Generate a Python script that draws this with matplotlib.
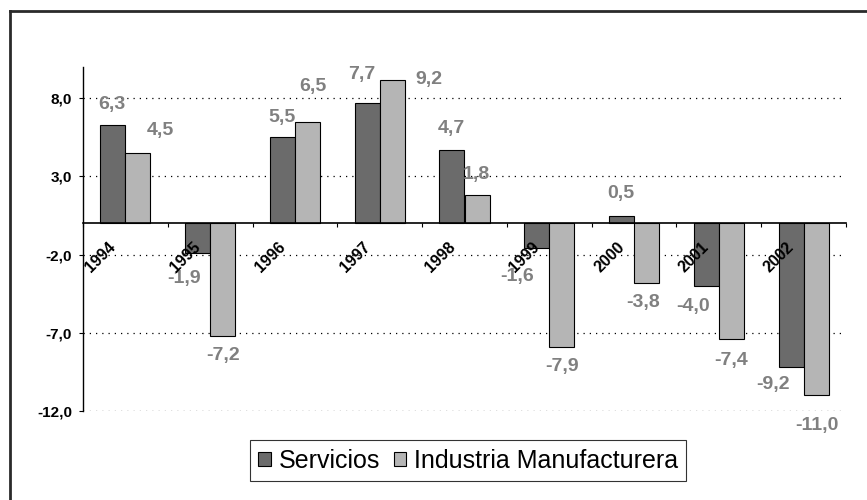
import numpy as np
from matplotlib import pyplot as plt
from matplotlib.lines import Line2D

plt.rcParams["font.family"] = ["Liberation Sans", "DejaVu Sans"]

years = ["1994", "1995", "1996", "1997", "1998", "1999", "2000", "2001", "2002"]
servicios = [6.3, -1.9, 5.5, 7.7, 4.7, -1.6, 0.5, -4.0, -9.2]
industria = [4.5, -7.2, 6.5, 9.2, 1.8, -7.9, -3.8, -7.4, -11.0]
yticks = [8, 3, -2, -7, -12]

# label offsets in pixels (dx, dy), labels were nudged by hand in the original
serv_off = [(-1, 20), (-14, -25), (0, 20), (-5, 28), (-1, 21), (-20, -28), (-1, 22), (-13, -21), (-18, -17)]
ind_off = [(22, 23), (0, -20), (5, 35), (37, 0), (-1, 21), (0, -20), (-3, -20), (0, -21), (1, -30)]

dark = "#6b6b6b"
light = "#b5b5b5"
lab_col = "#808080"

fig = plt.figure(figsize=(8.67, 5), dpi=100)
ax = fig.add_axes([83 / 867, 89 / 500, 763 / 867, 344 / 500])

x = np.arange(len(years))
w = 0.295
b1 = ax.bar(x - w / 2, servicios, w, color=dark, edgecolor="black", linewidth=0.8, label="Servicios", zorder=3)
b2 = ax.bar(x + w / 2, industria, w, color=light, edgecolor="black", linewidth=0.8, label="Industria Manufacturera", zorder=3)

ax.set_xlim(-0.5, len(years) - 0.5)
ax.set_ylim(-12, 10)

for bars, vals, offs in [(b1, servicios, serv_off), (b2, industria, ind_off)]:
    for bar, v, (dx, dy) in zip(bars, vals, offs):
        ax.annotate(f"{v:.1f}".replace(".", ","),
                    (bar.get_x() + bar.get_width() / 2, v),
                    xytext=(dx * 0.72, dy * 0.72), textcoords="offset points",
                    ha="center", va="center", fontsize=14, fontweight="bold",
                    color=lab_col, zorder=5)

for i, y in enumerate(years):
    ax.text(i - 0.29, -2.18, y, rotation=45, ha="center", va="center",
            fontsize=11.5, fontweight="bold", zorder=6)

for t in yticks:
    ax.axhline(t, color="black", linestyle=(0, (1, 4)), linewidth=0.9, zorder=1)

ax.set_yticks(yticks)
ax.set_yticklabels([f"{t:.1f}".replace(".", ",") for t in yticks], fontsize=11, fontweight="bold")
ax.set_xticks(np.arange(-0.5, len(years), 1))
ax.set_xticklabels([])
ax.tick_params(axis="y", length=3, width=0.8, pad=5)
ax.tick_params(axis="x", length=3, width=0.8, direction="out")

ax.spines["top"].set_visible(False)
ax.spines["right"].set_visible(False)
ax.spines["bottom"].set_position(("data", 0))
ax.spines["bottom"].set_linewidth(1.2)
ax.spines["bottom"].set_zorder(4)
ax.spines["left"].set_linewidth(1)

leg = fig.legend(loc="center", bbox_to_anchor=(468 / 867, 1 - 460.5 / 500), ncol=2,
                 fontsize=18, frameon=True, fancybox=False, edgecolor="black",
                 handlelength=0.5, handleheight=0.5, handletextpad=0.3,
                 columnspacing=0.55, borderpad=0.35)
leg.get_frame().set_linewidth(0.8)

# outer frame, only top and left edge show in the picture
fig.add_artist(Line2D([10.3 / 867, 10.3 / 867], [0, 1 - 11.3 / 500], color="#2a2a2a", linewidth=2, solid_capstyle="projecting"))
fig.add_artist(Line2D([10.3 / 867, 1], [1 - 11.3 / 500, 1 - 11.3 / 500], color="#2a2a2a", linewidth=2, solid_capstyle="projecting"))

plt.savefig("out.png", dpi=100)
